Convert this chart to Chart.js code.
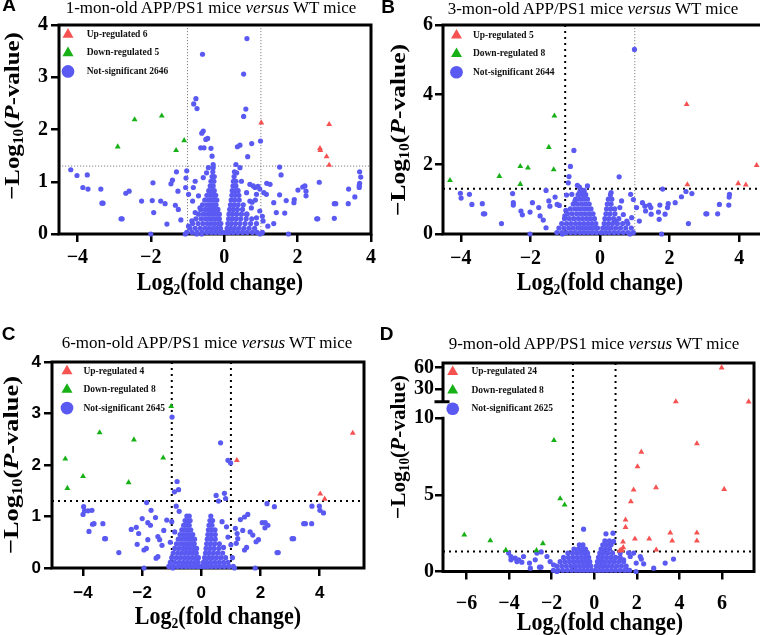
<!DOCTYPE html>
<html>
<head>
<meta charset="utf-8">
<script src="https://cdn.jsdelivr.net/npm/chart.js@4.4.1/dist/chart.umd.min.js"></script>
<style>
  body { margin: 0; width: 760px; height: 635px; overflow: hidden; background: #fff; position: relative; font-family: 'Liberation Serif', serif; color: #000; }
  canvas { position: absolute; }
  .t { position: absolute; transform: translate(-50%, -50%); white-space: nowrap; }
  .ttl { font-size: 17px; }
  .xt { font-size: 22px; font-weight: bold; transform: translate(-50%, -50%) scaleY(1.14); }
  .yt { font-size: 22px; font-weight: bold; }
  .lt { font-family: 'Liberation Sans', sans-serif; font-weight: bold; font-size: 19px; }
  sub { font-size: 0.62em; vertical-align: -0.28em; line-height: 0; }
</style>
</head>
<body>
<canvas id="cA" width="380" height="300" style="left:0;top:0"></canvas>
<canvas id="cB" width="390" height="300" style="left:380px;top:0"></canvas>
<canvas id="cC" width="380" height="315" style="left:0;top:320px"></canvas>
<canvas id="cD" width="380" height="315" style="left:380px;top:320px"></canvas>

<div class="t lt" style="left:9px;top:5px">A</div>
<div class="t lt" style="left:388px;top:6.5px">B</div>
<div class="t lt" style="left:8.5px;top:333.5px">C</div>
<div class="t lt" style="left:386.5px;top:334px">D</div>

<div class="t ttl" style="left:211px;top:8px">1-mon-old APP/PS1 mice <i>versus</i> WT mice</div>
<div class="t ttl" style="left:593px;top:9px">3-mon-old APP/PS1 mice <i>versus</i> WT mice</div>
<div class="t ttl" style="left:207px;top:342.5px">6-mon-old APP/PS1 mice <i>versus</i> WT mice</div>
<div class="t ttl" style="left:594px;top:344px">9-mon-old APP/PS1 mice <i>versus</i> WT mice</div>

<div class="t xt" style="left:220px;top:282px">Log<sub>2</sub>(fold change)</div>
<div class="t xt" style="left:600px;top:282px">Log<sub>2</sub>(fold change)</div>
<div class="t xt" style="left:218px;top:615.5px">Log<sub>2</sub>(fold change)</div>
<div class="t xt" style="left:600px;top:621.5px">Log<sub>2</sub>(fold change)</div>

<div class="t yt" style="left:12px;top:116px;transform:translate(-50%,-50%) rotate(-90deg) scaleX(1.13)">&minus;Log<sub>10</sub>(<i>P</i>-value)</div>
<div class="t yt" style="left:398px;top:130px;transform:translate(-50%,-50%) rotate(-90deg) scaleX(1.16)">&minus;Log<sub>10</sub>(<i>P</i>-value)</div>
<div class="t yt" style="left:11px;top:465px;transform:translate(-50%,-50%) rotate(-90deg) scaleX(1.2)">&minus;Log<sub>10</sub>(<i>P</i>-value)</div>
<div class="t yt" style="left:398px;top:447px;transform:translate(-50%,-50%) rotate(-90deg) scaleX(0.97)">&minus;Log<sub>10</sub>(<i>P</i>-value)</div>

<script>
// ---- panel A : 1 month ----
const labelsA = ['Up-regulated 6', 'Down-regulated 5', 'Not-significant 2646'];
const xTicksA = [-4, -2, 0, 2, 4];
const yTicksA = [0, 1, 2, 3, 4];
const upA = [[1.01,2.13],[2.86,2.10],[2.61,1.64],[2.62,1.60],[2.79,1.48],[2.86,1.32]];
const downA = [[-2.44,2.19],[-1.70,2.26],[-2.90,1.67],[-1.09,1.79],[-1.31,1.60]];
const nsA = [[0.62,3.74],[-0.59,3.44],[0.53,3.06],[-0.77,2.59],[-0.83,2.49],[-0.74,2.40],[0.59,2.39],[0.53,2.25],
  [-0.57,1.97],[-0.61,1.93],[-0.50,1.81],[-0.45,1.83],[0.99,1.78],[0.75,1.73],[0.43,1.70],[0.36,1.67],[-0.64,1.65],
  [-0.55,1.65],[-0.36,1.64],[0.64,1.48],[-0.33,1.49],[0.32,1.33],[-0.30,1.33],
  [-4.18,1.23],[-4.01,1.12],[-3.73,1.13],[-3.85,0.89],[-3.71,0.86],[-3.36,0.86],[-3.33,0.59],[-3.30,0.59],[-2.81,0.29],
  [-2.78,0.29],[-2.68,0.78],[-2.59,0.82],[-2.25,0.63],[-1.94,0.98],[-1.96,0.64],[-1.92,0.41],[-1.73,0.63],[-1.61,0.58],
  [-1.56,0.19],[-1.45,0.96],[-1.41,1.03],[-1.30,1.19],[-1.26,0.82],[-1.33,0.55],[-1.25,0.47],[-1.18,0.27],[-1.02,1.21],
  [-1.04,1.07],[-1.05,0.89],[-0.97,0.76],[-2.0,0],[-1.06,0],[-0.75,0],[-0.61,0],[0.98,0],[1.75,0],
  [1.51,1.28],[1.55,1.13],[1.51,0.75],[1.35,0.60],[1.42,0.41],[1.16,0.97],[1.25,0.95],[1.35,0.20],[1.65,0.40],[1.69,0.64],
  [1.91,0.66],[1.90,0.60],[2.01,0.84],[2.14,0.90],[2.20,0.92],[2.23,0.82],[2.23,0.73],[2.59,0.99],[2.52,0.29],[2.55,0.29],
  [3.00,0.58],[3.04,0.58],[3.00,0.30],[3.38,0.58],[3.39,0.86],[3.56,0.71],[3.68,0.89],[3.68,0.93],[3.69,0.97],[3.69,1.19],
  [3.72,1.09],[1.08,0.79],[1.15,0.76],[0.92,0.91],[0.97,0.86],[0.85,0.65],[0.97,0.44],[1.04,0.34],[0.76,0.61],[0.70,0.63],
  [0.61,0.79],[0.79,0.92],[0.84,0.89],
  [-0.79,1.01],[-0.84,0.89],[-0.70,0.73],[-0.86,0.63],[-0.66,0.50],[-0.79,0.41],[-0.88,0.25],[-0.97,0.15],[-0.57,1.08],
  [-0.48,1.17],[-0.43,1.27],[0.47,1.01],[0.70,0.95],[0.88,0.76],[0.74,0.50],[0.61,0.38],[0.88,0.31],[1.06,0.25],[1.19,0.15],
  [0.43,1.27],[0.34,1.17]];
// dense centre of the volcano, one row per -log10 level: [y, [x...]]
const coreA = [
  [0.03, [-1.02,-0.88,-0.74,-0.6,-0.47,-0.35,-0.24,-0.13,-0.04,0.05,0.14,0.25,0.37,0.5,0.63,0.77,0.9,1.04]],
  [0.11, [-0.93,-0.79,-0.65,-0.52,-0.41,-0.3,-0.2,-0.1,0.08,0.18,0.29,0.41,0.54,0.68,0.83]],
  [0.2, [-0.86,-0.71,-0.58,-0.46,-0.36,-0.26,-0.16,-0.09,0.1,0.2,0.31,0.43,0.57,0.72,0.88]],
  [0.29, [-0.77,-0.63,-0.51,-0.41,-0.31,-0.22,-0.13,0.12,0.22,0.33,0.45,0.6,0.75]],
  [0.38, [-0.7,-0.57,-0.46,-0.37,-0.28,-0.19,-0.13,0.13,0.23,0.34,0.47,0.62]],
  [0.47, [-0.64,-0.52,-0.42,-0.33,-0.25,-0.17,0.15,0.25,0.36,0.5]],
  [0.56, [-0.59,-0.47,-0.38,-0.3,-0.22,0.17,0.27,0.38,0.52]],
  [0.65, [-0.53,-0.42,-0.34,-0.26,-0.2,0.19,0.29,0.41]],
  [0.74, [-0.47,-0.38,-0.3,-0.23,0.21,0.3,0.4]],
  [0.83, [-0.42,-0.34,-0.27,0.22,0.31,0.38]],
  [0.92, [-0.38,-0.3,0.24,0.32]],
  [1.01, [-0.36,-0.28,0.25,0.32]],
  [1.1, [-0.33,-0.27,0.27]],
  [1.19, [-0.31,0.28]],
  [1.27, [-0.3]]];

// ---- panel B : 3 months ----
const labelsB = ['Up-regulated 5', 'Down-regulated 8', 'Not-significant 2644'];
const xTicksB = [-4, -2, 0, 2, 4];
const yTicksB = [0, 2, 4, 6];
const upB = [[2.49,3.72],[4.50,1.97],[2.51,1.42],[3.97,1.45],[4.19,1.41]];
const downB = [[-1.31,3.39],[-1.47,2.49],[-2.29,1.94],[-2.07,1.90],[-1.33,1.85],[-2.89,1.66],[-4.31,1.54],[-2.29,1.43]];
const nsB = [[0.99,5.30],[-0.75,2.40],[-0.85,1.94],[-0.89,1.65],[-0.91,1.47],[0.55,1.64],[-0.65,1.40],[-0.59,1.35],
  [-0.36,1.38],[1.80,1.29],[-4.01,1.17],[-3.99,1.03],[-3.75,1.14],[-3.68,0.85],[-3.38,0.87],[-3.35,0.58],[-3.31,0.58],
  [-2.83,0.30],[-2.51,1.16],[-2.49,0.90],[-2.49,0.83],[-2.27,0.66],[-2.23,0.55],[-2.01,0.63],[-1.94,0.90],[-1.76,0.76],
  [-1.72,0.52],[-1.63,0.40],[-1.55,1.25],[-1.47,0.95],[-1.44,0.80],[-1.29,1.06],[-1.23,0.85],[-1.17,0.82],[-1.55,0.18],
  [-2.01,0],[-1.08,0],[-0.96,1.12],[-0.98,0.68],[-1.01,0.52],[0.32,1.19],[0.86,0],[1.77,0],[1.72,0.83],[1.96,0.87],
  [1.94,0.76],[2.16,0.90],[2.34,1.07],[2.47,1.22],[2.64,1.16],[2.54,0.30],[3.04,0.58],[3.07,0.58],[3.38,0.58],[3.43,0.85],
  [3.70,0.83],[3.72,1.14],[3.71,1.06],[1.42,0.83],[1.46,0.76],[1.47,0.57],[1.70,0.42],[1.68,0.63],[1.87,0.57],[1.22,0.90],
  [1.29,0.80],[1.31,0.66],[0.88,1.14],[0.96,0.99],[1.05,0.76],[1.13,0.37],
  [-0.81,1.14],[-0.72,0.95],[-0.58,1.19],[-0.46,1.23],[0.57,0.76],[0.67,0.56],[0.77,0.37],[0.91,0.47],[0.62,0.95],[0.43,0.37]];
const coreB = [
  [0.04, [-1.24,-1.1,-0.97,-0.84,-0.71,-0.58,-0.46,-0.34,-0.22,-0.1,0.03,0.15,0.27,0.4,0.53,0.67,0.81,0.96]],
  [0.17, [-1.18,-1.04,-0.9,-0.77,-0.64,-0.52,-0.4,-0.28,-0.17,-0.07,0.08,0.2,0.32,0.45,0.59,0.74,0.9]],
  [0.3, [-1.1,-0.96,-0.83,-0.7,-0.58,-0.46,-0.34,-0.23,-0.12,0.12,0.24,0.36,0.5,0.65,0.8]],
  [0.44, [-1.02,-0.88,-0.75,-0.62,-0.5,-0.38,-0.27,-0.16,0.14,0.26,0.39,0.54]],
  [0.58, [-0.93,-0.8,-0.67,-0.55,-0.43,-0.31,-0.2,0.17,0.29,0.43]],
  [0.72, [-0.85,-0.72,-0.6,-0.48,-0.37,-0.26,0.19,0.31,0.42]],
  [0.86, [-0.77,-0.65,-0.53,-0.42,-0.31,0.21,0.32]],
  [1.0, [-0.7,-0.58,-0.47,-0.36,0.24,0.34]],
  [1.13, [-0.63,-0.51,-0.41,0.3]],
  [1.25, [-0.57,-0.46]]];

// ---- panel C : 6 months ----
const labelsC = ['Up-regulated 4', 'Down-regulated 8', 'Not-significant 2645'];
const xTicksC = [-4, -2, 0, 2, 4];
const yTicksC = [0, 1, 2, 3, 4];
const upC = [[5.12,2.62],[1.20,2.09],[4.02,1.44],[4.17,1.34]];
const downC = [[-1.02,3.14],[-3.44,2.63],[-2.28,2.49],[-4.60,2.12],[-1.29,2.14],[-4.00,1.78],[-2.46,1.66],[-4.53,1.55]];
const nsC = [[-0.99,2.93],[0.65,2.43],[0.90,2.09],[0.99,2.04],[-0.82,1.68],[-0.77,1.52],[-0.91,1.48],[0.50,1.41],
  [0.58,1.30],[0.78,1.45],[0.82,1.35],[-1.85,1.27],[-3.98,1.19],[-3.95,1.11],[-4.0,1.04],[-3.83,1.11],[-3.70,1.12],
  [-3.68,0.85],[-3.63,0.86],[-3.33,0.86],[-3.80,0.71],[-3.27,0.57],[-3.24,0.57],[-2.79,0.30],[-2.37,0.75],[-2.20,0.79],
  [-2.00,0.96],[-1.70,1.12],[-1.55,0.98],[-1.81,0.88],[-1.72,0.83],[-2.17,0.46],[-2.12,0.67],[-1.81,0.55],[-1.86,0.38],
  [-1.94,0.35],[-1.47,0.61],[-1.41,0.55],[-1.27,0.73],[-1.17,0.93],[-1.33,0.44],[-1.47,0.22],[-1.53,0.19],[-1.94,0],
  [-0.96,0],[1.12,0],[1.82,0],[2.22,1.25],[2.47,1.19],[2.06,0.88],[2.16,0.88],[2.25,0.83],[2.15,0.78],[1.57,1.04],
  [1.46,0.99],[1.32,0.94],[1.40,0.73],[1.65,0.70],[1.74,0.64],[1.85,0.51],[1.93,0.55],[1.53,0.40],[1.46,0.35],[2.56,0.30],
  [2.60,0.30],[3.07,0.57],[3.12,0.57],[3.46,0.86],[3.52,0.86],[3.73,0.86],[3.74,1.20],[3.99,1.20],[4.01,1.12],[4.13,1.07],
  [1.15,0.77],[1.21,0.67],[1.23,0.57],[1.18,0.48],
  [-0.85,1.2],[-0.75,1.1],[-1.0,0.9],[-0.9,0.7],[-1.05,0.5],[0.7,0.9],[0.85,0.8],[0.9,0.6],[1.0,0.45],[0.75,0.4],[1.05,0.2]];
const coreC = [
  [0.03, [-1.1,-0.95,-0.8,-0.66,-0.52,-0.39,-0.26,-0.13,-0.02,0.1,0.22,0.35,0.49,0.63,0.78,0.93,1.08]],
  [0.11, [-1.05,-0.9,-0.75,-0.61,-0.48,-0.35,-0.22,-0.11,0.07,0.19,0.32,0.46,0.6,0.75,0.9]],
  [0.2, [-1.0,-0.85,-0.71,-0.57,-0.44,-0.31,-0.19,-0.1,0.11,0.24,0.37,0.51,0.66,0.82]],
  [0.29, [-0.95,-0.8,-0.66,-0.53,-0.41,-0.29,-0.17,0.14,0.27,0.41,0.56,0.72]],
  [0.38, [-0.9,-0.76,-0.62,-0.5,-0.38,-0.26,-0.16,0.16,0.29,0.43,0.59]],
  [0.47, [-0.84,-0.7,-0.58,-0.46,-0.35,-0.24,0.18,0.31,0.45,0.61]],
  [0.56, [-0.78,-0.65,-0.53,-0.42,-0.32,-0.23,0.2,0.33,0.47]],
  [0.65, [-0.72,-0.6,-0.49,-0.39,-0.29,0.22,0.34,0.47]],
  [0.74, [-0.66,-0.55,-0.45,-0.36,0.24,0.35,0.46]],
  [0.83, [-0.6,-0.5,-0.41,0.26,0.36]],
  [0.92, [-0.55,-0.46,-0.38,0.29,0.38]],
  [1.01, [-0.49,-0.41,0.32]]];

// ---- panel D : 9 months (broken y axis) ----
const labelsD = ['Up-regulated 24', 'Down-regulated 8', 'Not-significant 2625'];
const xTicksD = [-6, -4, -2, 0, 2, 4, 6];
const yTicksD = [0, 5, 10];
const yTicksDTop = [30, 60];
const upD = [[4.82,8.35],[2.21,7.80],[2.03,6.85],[1.85,5.33],[2.90,5.48],[6.10,5.37],[1.72,4.56],[1.47,3.37],[1.47,2.89],
  [3.57,2.52],[4.82,2.52],[1.91,2.13],[2.58,2.13],[3.66,2.00],[4.82,2.00],[1.35,1.94],[1.36,1.57],[1.30,1.39],[1.19,1.35],
  [1.25,1.40],[2.91,1.41]];
const upDTop = [[5.98,60],[3.83,12.2],[7.25,12.0]];
const downD = [[-1.89,8.56],[-1.60,4.76],[-1.39,4.35],[-6.10,2.39],[-4.88,2.02],[-2.41,1.83],[-4.15,1.39],[-2.71,1.37]];
const nsD = [[-0.50,2.76],[0.55,2.46],[0.88,2.50],[0.91,1.96],[-4.02,1.20],[-3.91,0.98],[-3.71,0.87],[-3.55,0.76],
  [-3.40,0.61],[-3.91,0.76],[-3.63,0.65],[-3.04,0.55],[-2.57,0.28],[-2.50,0.28],[-2.69,1.20],[-2.49,1.28],[-2.77,0.76],
  [-3.32,0.98],[-3.0,0.22],[-2.07,0.65],[-1.91,0.44],[-1.75,0.0],[-2.22,0.98],[2.16,0.98],[2.21,0.81],[1.97,0.55],
  [2.32,0.50],[2.79,0.22],[3.33,0.55],[3.72,0.81],[1.85,1.20],[1.69,0.98],[1.96,0.0],[1.53,0.11],[1.61,1.22],[1.38,0.76],
  [1.22,1.2]];
const coreD = [
  [0.08, [-1.92,-1.7,-1.48,-1.27,-1.06,-0.86,-0.67,-0.49,-0.31,-0.13,0.05,0.23,0.41,0.6,0.8,1.0,1.21,1.43,1.66]],
  [0.36, [-1.76,-1.53,-1.31,-1.1,-0.9,-0.7,-0.51,-0.33,-0.16,0.1,0.28,0.46,0.65,0.85,1.06,1.28,1.5]],
  [0.64, [-1.6,-1.38,-1.16,-0.96,-0.76,-0.56,-0.38,-0.21,0.15,0.33,0.52,0.72,0.93,1.15,1.38]],
  [0.92, [-1.44,-1.21,-1.0,-0.8,-0.61,-0.43,-0.26,0.2,0.38,0.58,0.79,1.0,1.22]],
  [1.2, [-1.24,-1.02,-0.82,-0.63,-0.46,-0.31,0.26,0.44,0.64,0.86]],
  [1.47, [-0.95,-0.75,-0.56,-0.41,0.32,0.52,0.72]],
  [1.74, [-0.7,-0.53,0.4,0.6,0.79]],
  [2.0, [0.5,0.71]]];

const RED = '#f65252';
const GREEN = '#17b117';
const BLUE = '#5a5af3';
const GRAY_DOT = {c: '#808080', w: 1, d: [1.2, 1.8]};
const BLACK_DOT = {c: '#000', w: 2, d: [2, 4]};

Chart.defaults.font.family = 'Liberation Serif';
Chart.defaults.animation = false;

function pts(list) { return list.map(p => ({x: p[0], y: p[1]})); }
function rows(list) { return list.flatMap(r => r[1].map(x => ({x: x, y: r[0]}))); }
function fmt(v) { return v < 0 ? '\u2212' + Math.abs(v) : '' + v; }

// threshold lines + black frame, under the points
const frame = {
  id: 'frame',
  beforeDatasetsDraw(chart, args, o) {
    const ctx = chart.ctx, a = chart.chartArea;
    ctx.save();
    ctx.lineCap = 'butt';
    o.refs.forEach(r => {
      ctx.beginPath();
      ctx.lineWidth = r.w; ctx.strokeStyle = r.c; ctx.setLineDash(r.d);
      if (r.x !== undefined) {
        const px = chart.scales.x.getPixelForValue(r.x);
        ctx.moveTo(px, a.top); ctx.lineTo(px, a.bottom);
      } else {
        const py = chart.scales.y.getPixelForValue(r.y);
        ctx.moveTo(a.left, py); ctx.lineTo(a.right, py);
      }
      ctx.stroke();
    });
    ctx.setLineDash([]);
    ctx.lineWidth = 3; ctx.strokeStyle = '#000'; ctx.lineCap = 'square';
    ctx.beginPath();
    ctx.moveTo(a.left, a.bottom); ctx.lineTo(a.right, a.bottom);
    ctx.lineTo(a.right, a.top); ctx.lineTo(a.left, a.top);
    if (chart.scales.y2) {
      const g1 = chart.scales.y2.getPixelForValue(o.breakAt);
      const g2 = chart.scales.y.getPixelForValue(chart.scales.y.max);
      ctx.lineTo(a.left, g1);
      ctx.moveTo(a.left - 7, g1); ctx.lineTo(a.left + 5, g1);
      ctx.moveTo(a.left, g2); ctx.lineTo(a.left, a.bottom);
    } else {
      ctx.lineTo(a.left, a.bottom);
    }
    ctx.stroke();
    ctx.restore();
  }
};

// place the in-plot legend where the figure has it
const nudge = {
  id: 'nudge',
  afterLayout(chart, args, o) {
    const l = chart.legend, a = chart.chartArea;
    if (l) { l.left = a.left + o.dx; l.top = a.top + o.dy; }
  }
};

function axis(min, max, ticks, font, pad, extra) {
  return Object.assign({
    type: 'linear', min: min, max: max,
    border: {display: false},
    grid: {drawOnChartArea: false, color: '#000', lineWidth: 2.5, tickLength: 8},
    ticks: {font: font, color: '#000', padding: pad, callback: fmt, maxRotation: 0, autoSkip: false},
    afterBuildTicks: s => { s.ticks = ticks.map(v => ({value: v})); }
  }, extra);
}

function volcano(id, p) {
  const ds = [
    {label: p.labels[0], data: pts(p.up), pointStyle: 'triangle', pointRadius: 3.4, backgroundColor: RED},
    {label: p.labels[1], data: pts(p.down), pointStyle: 'triangle', pointRadius: 3.4, backgroundColor: GREEN},
    {label: p.labels[2], data: pts(p.ns).concat(rows(p.core)), pointStyle: 'circle', pointRadius: 2.6, backgroundColor: BLUE}
  ];
  if (p.upTop) {
    ds.push({label: p.labels[0], data: pts(p.upTop), yAxisID: 'y2', pointStyle: 'triangle', pointRadius: 3.4, backgroundColor: RED});
  }
  ds.forEach(d => { d.borderWidth = 0; d.pointBorderWidth = 0; d.clip = false; });

  const scales = {
    x: axis(p.xMin, p.xMax, p.xTicks, p.tickFont, p.xPad, {position: 'bottom', afterFit: s => { s.height = 45; }}),
    y: axis(0, p.yMax, p.yTicks, p.tickFont, p.yPad, {position: 'left', afterFit: s => { s.width = p.yW; }})
  };
  if (p.upTop) {
    scales.y.stack = 'left';
    scales.y.stackWeight = p.lowW;
    scales.y2 = axis(p.topMin, p.topMax, p.topTicks, p.tickFont, p.yPad,
      {position: 'left', stack: 'left', stackWeight: p.topW, afterFit: s => { s.width = p.yW; }});
  }

  new Chart(document.getElementById(id), {
    type: 'scatter',
    data: {datasets: ds},
    options: {
      responsive: false,
      events: [],
      layout: {padding: p.pad},
      scales: scales,
      plugins: {
        tooltip: {enabled: false},
        legend: {
          position: 'chartArea',
          align: 'start',
          labels: {
            usePointStyle: true, boxWidth: 9, boxHeight: 9, padding: 9, color: '#111',
            font: {family: 'Liberation Serif', weight: 'bold', size: 9.5},
            filter: item => item.datasetIndex < 3,
            generateLabels: chart => Chart.defaults.plugins.legend.labels.generateLabels(chart)
              .map(l => Object.assign(l, {text: p.gap + l.text}))
          }
        },
        frame: {refs: p.refs, breakAt: p.breakAt},
        nudge: p.nudge
      }
    },
    plugins: [frame, nudge]
  });
}

const serifTicks = {family: 'Liberation Serif', weight: 'bold', size: 20};
const sansTicks = {family: 'Liberation Sans', weight: 'bold', size: 17};

volcano('cA', {
  labels: labelsA, up: upA, down: downA, ns: nsA, core: coreA,
  xMin: -4.5, xMax: 4, yMax: 4, xTicks: xTicksA, yTicks: yTicksA,
  tickFont: serifTicks, xPad: 4, yPad: 3, yW: 59,
  pad: {left: 0, top: 25, right: 7, bottom: 21},
  refs: [Object.assign({x: -1}, GRAY_DOT), Object.assign({x: 1}, GRAY_DOT), Object.assign({y: 1.3}, GRAY_DOT)],
  nudge: {dx: -4.5, dy: -4.3}, gap: '    '
});

volcano('cB', {
  labels: labelsB, up: upB, down: downB, ns: nsB, core: coreB,
  xMin: -4.51, xMax: 4.7, yMax: 6, xTicks: xTicksB, yTicks: yTicksB,
  tickFont: serifTicks, xPad: 5, yPad: 2, yW: 63,
  pad: {left: 0, top: 25, right: 6.4, bottom: 21},
  refs: [Object.assign({x: -1}, BLACK_DOT), Object.assign({x: 1}, GRAY_DOT), Object.assign({y: 1.3}, BLACK_DOT)],
  nudge: {dx: 0, dy: -3.5}, gap: '   '
});

volcano('cC', {
  labels: labelsC, up: upC, down: downC, ns: nsC, core: coreC,
  xMin: -5.05, xMax: 5.5, yMax: 4, xTicks: xTicksC, yTicks: yTicksC,
  tickFont: sansTicks, xPad: 6.8, yPad: 3, yW: 52,
  pad: {left: 0, top: 42, right: 16, bottom: 22},
  refs: [Object.assign({x: -1}, BLACK_DOT), Object.assign({x: 1}, BLACK_DOT), Object.assign({y: 1.3}, BLACK_DOT)],
  nudge: {dx: 1.5, dy: -4.7}, gap: '   '
});

volcano('cD', {
  labels: labelsD, up: upD, upTop: upDTop, down: downD, ns: nsD, core: coreD,
  xMin: -7.1, xMax: 7.5, yMax: 10, xTicks: xTicksD, yTicks: yTicksD,
  topMin: -11.3, topMax: 66.6, topTicks: yTicksDTop, topW: 55.3, lowW: 153.2, breakAt: 12,
  tickFont: serifTicks, xPad: 12, yPad: 1, yW: 63,
  pad: {left: 0, top: 43, right: 6, bottom: 18.5},
  refs: [Object.assign({x: -1}, BLACK_DOT), Object.assign({x: 1}, BLACK_DOT), Object.assign({y: 1.3}, BLACK_DOT)],
  nudge: {dx: -3.8, dy: -5}, gap: '    '
});
</script>
</body>
</html>
